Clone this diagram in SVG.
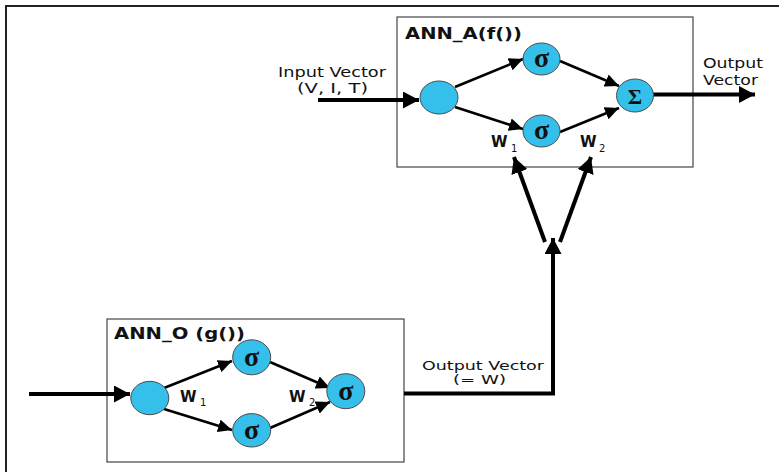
<svg xmlns="http://www.w3.org/2000/svg" width="779" height="472" viewBox="0 0 779 472">
<defs>
<style>
.frame{fill:none;stroke:#222;stroke-width:2}
.box{fill:#fff;stroke:#444;stroke-width:1.2}
.node{fill:#35C0EC;stroke:#4a4a4a;stroke-width:1}
.sym{font-family:"Liberation Serif","DejaVu Serif",serif;font-weight:bold;fill:#111;text-anchor:middle}
.title{font-family:"DejaVu Sans","Liberation Sans",sans-serif;font-weight:bold;font-size:15px;fill:#111}
.lbl{font-family:"DejaVu Sans","Liberation Sans",sans-serif;font-size:14px;fill:#111}
.lbl2{font-family:"DejaVu Sans","Liberation Sans",sans-serif;font-size:12px;fill:#111}
.w{font-family:"DejaVu Sans","Liberation Sans",sans-serif;font-weight:bold;font-size:15px;fill:#111}
.sub{font-family:"DejaVu Sans","Liberation Sans",sans-serif;font-size:10px;fill:#111}
.thick{fill:none;stroke:#000;stroke-width:4}
.thin{fill:none;stroke:#000;stroke-width:2.6}
</style>
<marker id="big" markerUnits="userSpaceOnUse" markerWidth="17" markerHeight="17" refX="16" refY="8.5" orient="auto">
<path d="M0,0 L16,8.5 L0,17 z" fill="#000"/>
</marker>
<marker id="small" markerUnits="userSpaceOnUse" markerWidth="14" markerHeight="13" refX="14" refY="6.5" orient="auto">
<path d="M0,0 L14,6.5 L0,13 z" fill="#000"/>
</marker>
</defs>
<rect width="779" height="472" fill="#fff"/>
<path class="frame" d="M6,472 V6 H779"/>

<g id="ANN_A">
<rect class="box" x="397" y="17" width="296" height="150"/>
<text class="title" x="405" y="39" textLength="117" lengthAdjust="spacingAndGlyphs">ANN_A(f())</text>
</g>
<g id="ANN_O">
<rect class="box" x="107" y="319" width="297" height="143"/>
<text class="title" x="114" y="339" textLength="131" lengthAdjust="spacingAndGlyphs">ANN_O (g())</text>
</g>

<g id="connectors">
<line class="thick" x1="318" y1="100" x2="419" y2="100" marker-end="url(#big)"/>
<line class="thin" x1="455" y1="87" x2="523" y2="59" marker-end="url(#small)"/>
<line class="thin" x1="455" y1="107" x2="523" y2="129" marker-end="url(#small)"/>
<line class="thin" x1="560" y1="61" x2="619" y2="86" marker-end="url(#small)"/>
<line class="thin" x1="560" y1="132" x2="619" y2="108" marker-end="url(#small)"/>
<line class="thick" x1="653" y1="94.5" x2="755" y2="94.5" marker-end="url(#big)"/>
<line class="thick" x1="545" y1="242" x2="514" y2="157" marker-end="url(#big)"/>
<line class="thick" x1="560" y1="242" x2="591" y2="157" marker-end="url(#big)"/>
<polyline class="thick" points="404,393.5 553,393.5 553,238" marker-end="url(#big)"/>
<line class="thick" x1="29" y1="394" x2="130" y2="394" marker-end="url(#big)"/>
<line class="thin" x1="164" y1="388" x2="232" y2="361" marker-end="url(#small)"/>
<line class="thin" x1="164" y1="409" x2="232" y2="430" marker-end="url(#small)"/>
<line class="thin" x1="270" y1="362" x2="330" y2="388" marker-end="url(#small)"/>
<line class="thin" x1="270" y1="428" x2="330" y2="402" marker-end="url(#small)"/>
</g>

<g id="A_in"><ellipse class="node" cx="439" cy="97.5" rx="19" ry="16.5"/></g>
<g id="A_s1"><ellipse class="node" cx="541.5" cy="59" rx="18.5" ry="16"/><text class="sym" x="541.5" y="67" font-size="28">σ</text></g>
<g id="A_s2"><ellipse class="node" cx="541.5" cy="131" rx="18.5" ry="16"/><text class="sym" x="541.5" y="139" font-size="28">σ</text></g>
<g id="A_sum"><ellipse class="node" cx="635" cy="95.5" rx="18.5" ry="16.5"/><text class="sym" x="635" y="103.5" font-size="22">Σ</text></g>

<g id="O_in"><ellipse class="node" cx="149.8" cy="398" rx="19" ry="16.7"/></g>
<g id="O_s1"><ellipse class="node" cx="251.7" cy="357.3" rx="19" ry="17.5"/><text class="sym" x="251.7" y="365.5" font-size="28">σ</text></g>
<g id="O_s2"><ellipse class="node" cx="251.7" cy="430.3" rx="19" ry="16.7"/><text class="sym" x="251.7" y="438.5" font-size="28">σ</text></g>
<g id="O_out"><ellipse class="node" cx="345.8" cy="391.2" rx="19" ry="17.5"/><text class="sym" x="345.8" y="399.5" font-size="28">σ</text></g>

<g id="labels">
<text class="lbl" x="278" y="77" textLength="108" lengthAdjust="spacingAndGlyphs">Input Vector</text>
<text class="lbl" x="297" y="93" textLength="71" lengthAdjust="spacingAndGlyphs">(V, I, T)</text>
<text class="lbl" x="703" y="68" textLength="60" lengthAdjust="spacingAndGlyphs">Output</text>
<text class="lbl" x="703" y="85" textLength="55" lengthAdjust="spacingAndGlyphs">Vector</text>
<text class="lbl2" x="422" y="369.5" textLength="122" lengthAdjust="spacingAndGlyphs">Output Vector</text>
<text class="lbl2" x="453" y="384" textLength="53" lengthAdjust="spacingAndGlyphs">(= W)</text>
<text class="w" x="491" y="147">W</text><text class="sub" x="511" y="152">1</text>
<text class="w" x="580" y="147">W</text><text class="sub" x="599" y="152">2</text>
<text class="w" x="180" y="401.5">W</text><text class="sub" x="200" y="406">1</text>
<text class="w" x="289" y="401.5">W</text><text class="sub" x="309" y="406">2</text>
</g>
</svg>
